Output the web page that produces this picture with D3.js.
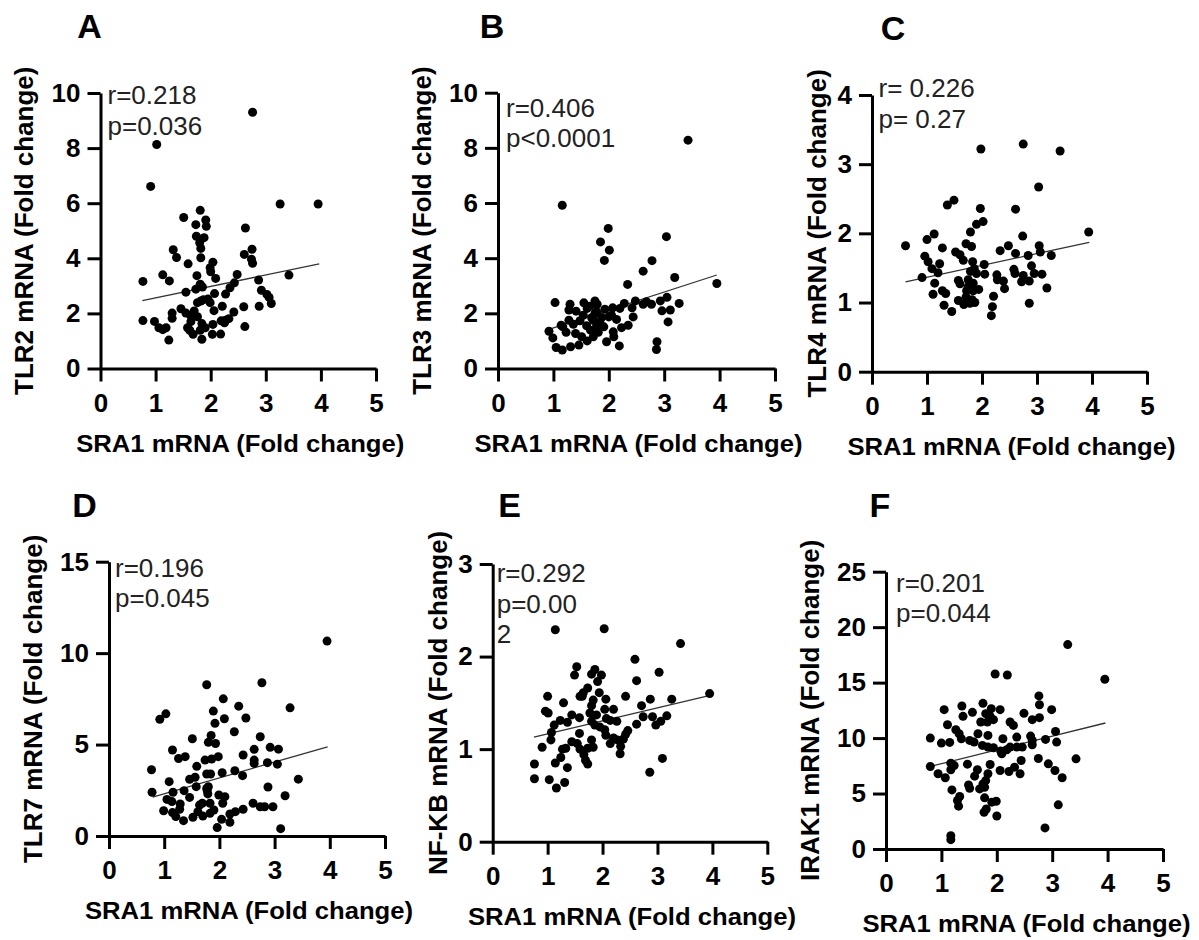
<!DOCTYPE html>
<html><head><meta charset="utf-8">
<script src="https://cdn.jsdelivr.net/npm/d3@7"></script>
<style>body{margin:0;background:#fff}svg{display:block}</style>
</head><body><svg id="c" width="1199" height="940"></svg>
<script>
const FONT = '"Liberation Sans", Arial, Helvetica, sans-serif';
const xTicks = [0, 1, 2, 3, 4, 5];
const xTitle = "SRA1 mRNA (Fold change)";
const letters = ["A", "B", "C", "D", "E", "F"];
const yTitles = ["TLR2 mRNA (Fold change)", "TLR3 mRNA (Fold change)", "TLR4 mRNA (Fold change)",
                 "TLR7 mRNA (Fold change)", "NF-KB mRNA (Fold change)", "IRAK1 mRNA (Fold change)"];
const yTicksA = [0, 2, 4, 6, 8, 10];
const yTicksB = [0, 2, 4, 6, 8, 10];
const yTicksC = [0, 1, 2, 3, 4];
const yTicksD = [0, 5, 10, 15];
const yTicksE = [0, 1, 2, 3];
const yTicksF = [0, 5, 10, 15, 20, 25];
const statsA = ["r=0.218", "p=0.036"];
const statsB = ["r=0.406", "p<0.0001"];
const statsC = ["r= 0.226", "p= 0.27"];
const statsD = ["r=0.196", "p=0.045"];
const statsE = ["r=0.292", "p=0.00", "2"];
const statsF = ["r=0.201", "p=0.044"];
const fitA = [[0.76, 2.46], [3.97, 3.80]];
const fitB = [[0.96, 1.45], [3.95, 3.39]];
const fitC = [[0.61, 1.30], [3.95, 1.87]];
const fitD = [[0.79, 2.13], [3.96, 4.88]];
const fitE = [[0.75, 1.13], [3.96, 1.58]];
const fitF = [[0.80, 7.44], [3.96, 11.36]];

const pointsA = [[2.76,9.30],[1.02,8.13],[0.91,6.61],[3.26,5.97],[3.95,5.97],[1.81,5.74],[1.51,5.48],[1.91,5.39],[1.73,5.22],[1.92,5.16],[2.63,5.10],[1.74,4.80],[1.88,4.75],[1.80,4.56],[1.82,4.36],[1.32,4.31],[2.75,4.33],[2.61,4.14],[1.38,4.03],[2.74,3.97],[1.82,4.02],[2.76,3.82],[1.59,3.80],[2.04,3.86],[1.99,3.66],[2.00,3.51],[1.13,3.40],[2.48,3.41],[3.42,3.39],[1.25,3.18],[2.09,3.27],[1.75,3.37],[0.77,3.16],[2.87,3.21],[2.43,3.11],[1.81,3.06],[1.85,2.96],[1.73,2.88],[2.35,2.93],[1.55,2.77],[2.92,2.84],[2.07,2.72],[2.27,2.70],[3.02,2.69],[3.06,2.58],[1.95,2.52],[1.87,2.50],[1.76,2.39],[3.10,2.36],[2.21,2.26],[2.60,2.24],[2.88,2.26],[1.46,2.17],[2.06,2.10],[1.30,2.01],[1.55,2.01],[1.70,2.09],[2.42,2.05],[1.64,1.91],[1.76,1.88],[1.30,1.82],[0.77,1.74],[0.98,1.71],[2.27,1.75],[2.33,1.81],[2.19,1.73],[1.64,1.70],[1.84,1.63],[2.04,1.60],[1.06,1.48],[1.19,1.48],[1.13,1.41],[1.58,1.48],[1.90,1.48],[2.62,1.52],[1.62,1.39],[1.81,1.39],[1.68,1.24],[2.03,1.24],[2.18,1.25],[1.24,1.03],[1.84,1.06],[1.99,2.39],[1.82,2.45],[2.25,1.66]];
const pointsB = [[3.43,8.28],[1.16,5.92],[1.99,5.08],[3.04,4.78],[1.85,4.59],[2.01,4.29],[1.92,3.92],[2.78,3.91],[2.62,3.53],[3.19,3.30],[2.34,3.05],[3.95,3.08],[1.03,2.39],[1.30,2.33],[3.27,2.36],[3.05,2.58],[2.93,2.45],[1.55,2.38],[1.75,2.45],[1.79,2.33],[2.48,2.45],[2.28,2.36],[2.62,2.33],[2.77,2.33],[1.28,2.12],[1.41,2.08],[1.61,2.18],[1.66,2.26],[1.93,2.15],[2.07,2.20],[2.20,2.18],[2.42,2.20],[2.96,2.09],[3.11,2.12],[2.44,1.87],[2.05,1.93],[1.28,1.75],[1.48,1.73],[1.72,1.75],[1.87,1.85],[2.00,1.87],[1.14,1.57],[1.36,1.60],[1.60,1.55],[1.78,1.55],[1.91,1.51],[2.23,1.48],[2.35,1.57],[3.07,1.69],[0.92,1.35],[1.23,1.31],[1.40,1.27],[1.67,1.39],[1.81,1.31],[2.08,1.33],[0.99,1.11],[1.51,1.15],[1.72,1.15],[1.61,1.00],[1.96,0.97],[2.09,1.15],[2.87,0.97],[1.05,0.76],[1.16,0.67],[1.31,0.79],[1.46,0.85],[2.19,0.82],[2.86,0.69],[1.75,2.00],[1.84,1.66],[1.69,1.84],[1.54,1.93],[1.17,1.51],[1.78,2.06],[2.14,1.78],[2.68,2.42]];
const pointsC = [[2.75,3.29],[1.98,3.22],[3.42,3.19],[3.03,2.67],[1.49,2.48],[1.37,2.41],[1.97,2.36],[2.61,2.35],[2.02,2.17],[1.90,2.13],[1.79,2.02],[3.94,2.02],[1.13,1.99],[2.74,1.96],[1.00,1.91],[0.61,1.82],[1.28,1.79],[1.71,1.85],[1.81,1.81],[2.48,1.82],[2.33,1.75],[3.04,1.82],[3.06,1.73],[1.52,1.73],[1.60,1.69],[2.61,1.71],[2.84,1.68],[3.26,1.68],[0.96,1.67],[1.66,1.61],[1.02,1.59],[1.83,1.59],[2.04,1.55],[1.23,1.56],[2.90,1.53],[1.09,1.49],[1.86,1.49],[1.20,1.43],[1.79,1.45],[1.90,1.42],[2.05,1.41],[2.27,1.40],[2.58,1.48],[2.60,1.42],[2.95,1.42],[3.09,1.41],[0.91,1.36],[2.75,1.39],[2.28,1.33],[1.75,1.33],[1.57,1.32],[2.39,1.31],[2.72,1.30],[2.86,1.31],[1.14,1.28],[1.60,1.27],[1.75,1.23],[1.84,1.28],[2.41,1.20],[3.18,1.21],[1.28,1.17],[1.11,1.12],[1.34,1.13],[1.72,1.17],[1.84,1.17],[1.94,1.19],[2.21,1.09],[1.57,1.03],[1.71,1.08],[1.82,1.04],[1.87,1.00],[1.67,0.97],[1.31,0.96],[2.86,0.99],[2.19,0.94],[1.45,0.87],[2.17,0.81],[1.78,0.99]];
const pointsD = [[3.95,10.66],[1.77,8.27],[2.77,8.38],[2.07,7.50],[2.35,7.10],[3.28,7.01],[1.03,6.68],[0.92,6.38],[1.89,6.83],[2.09,6.41],[2.48,6.45],[1.92,6.16],[2.27,5.70],[1.85,5.50],[1.51,5.32],[2.74,5.43],[1.80,5.12],[1.93,5.06],[1.15,4.70],[2.92,4.85],[3.07,4.75],[2.63,4.74],[1.26,4.24],[1.38,4.34],[1.74,4.15],[1.86,4.21],[1.98,4.34],[2.43,4.43],[2.63,4.15],[2.63,3.97],[2.87,4.01],[3.05,3.93],[1.59,3.81],[0.77,3.62],[2.28,3.57],[2.05,3.46],[1.77,3.39],[1.84,3.39],[2.42,3.30],[1.46,3.10],[1.56,3.21],[3.43,3.11],[1.09,2.97],[1.80,2.70],[1.58,2.70],[2.88,2.68],[0.78,2.39],[1.16,2.39],[1.36,2.48],[1.78,2.48],[1.79,2.30],[1.99,2.24],[2.10,2.15],[1.46,2.11],[3.19,2.20],[1.05,2.00],[1.14,1.88],[1.29,1.75],[1.64,1.69],[1.83,1.79],[2.06,1.79],[2.61,1.79],[2.74,1.60],[2.82,1.60],[2.97,1.60],[0.99,1.38],[1.15,1.28],[1.28,1.46],[1.61,1.33],[1.70,1.09],[1.83,1.24],[1.90,1.42],[2.19,1.20],[2.29,1.33],[2.43,1.46],[1.21,1.06],[1.35,0.84],[1.52,1.02],[2.04,0.91],[2.19,0.75],[1.96,0.46],[3.11,0.40],[1.69,1.79],[1.77,2.60]];
const pointsE = [[1.14,2.29],[2.03,2.30],[3.42,2.14],[2.59,1.97],[1.53,1.89],[1.86,1.86],[1.49,1.80],[3.03,1.83],[1.80,1.81],[1.98,1.80],[1.91,1.73],[2.62,1.74],[1.73,1.66],[1.65,1.61],[1.59,1.57],[1.94,1.61],[1.00,1.57],[2.42,1.57],[3.95,1.60],[1.83,1.53],[2.06,1.54],[2.87,1.54],[3.26,1.54],[1.29,1.50],[1.80,1.47],[2.71,1.47],[2.04,1.43],[2.20,1.43],[0.96,1.41],[1.01,1.39],[1.44,1.37],[1.58,1.34],[1.77,1.39],[1.89,1.37],[2.07,1.33],[2.74,1.35],[2.91,1.35],[3.17,1.36],[1.36,1.29],[1.23,1.31],[1.80,1.30],[2.26,1.30],[2.62,1.27],[2.97,1.26],[3.06,1.30],[1.12,1.26],[1.95,1.24],[1.86,1.26],[2.04,1.21],[2.46,1.20],[1.07,1.18],[1.58,1.17],[2.42,1.16],[2.06,1.15],[2.20,1.12],[1.06,1.10],[2.27,1.10],[2.38,1.11],[1.44,1.08],[1.54,1.06],[1.80,1.10],[0.90,1.02],[2.14,1.06],[2.33,1.03],[1.27,1.00],[1.33,1.01],[1.59,1.00],[1.73,1.01],[1.83,1.02],[2.32,0.95],[1.66,0.94],[1.24,0.91],[3.09,0.90],[1.69,0.88],[1.73,0.84],[0.76,0.84],[1.14,0.85],[1.36,0.80],[2.86,0.75],[0.76,0.68],[1.03,0.67],[1.31,0.64],[1.16,0.58],[1.63,1.57],[2.14,1.31]];
const pointsF = [[3.28,18.43],[3.95,15.30],[1.97,15.78],[2.19,15.69],[2.76,13.80],[2.77,13.01],[1.75,13.13],[1.37,12.89],[1.05,12.56],[1.56,12.32],[2.06,12.56],[1.90,12.65],[2.99,12.56],[1.80,12.20],[1.94,11.66],[1.39,11.96],[2.49,12.23],[2.64,11.66],[2.77,11.84],[1.83,11.45],[1.71,11.45],[2.24,11.45],[2.30,11.14],[1.11,11.20],[1.26,10.75],[1.32,10.39],[1.66,10.39],[1.84,10.24],[3.06,10.60],[0.80,10.00],[1.36,9.94],[1.51,9.79],[1.59,9.64],[2.11,9.94],[2.36,10.09],[2.61,10.18],[2.64,9.79],[2.88,9.88],[3.08,9.64],[1.00,9.55],[1.15,9.61],[1.74,9.34],[1.84,9.19],[1.94,9.13],[2.24,9.19],[2.36,9.19],[2.46,9.19],[2.64,9.40],[2.07,8.83],[2.18,8.95],[2.09,8.58],[2.75,8.16],[3.43,8.13],[2.44,7.98],[2.93,7.68],[3.05,7.08],[0.80,7.44],[1.17,7.74],[1.23,7.53],[1.47,7.65],[1.88,7.62],[1.65,7.14],[2.06,7.08],[2.22,6.99],[2.32,7.38],[2.42,6.78],[0.94,6.78],[1.17,7.14],[1.07,6.42],[1.60,6.57],[1.84,6.78],[3.18,6.42],[1.80,6.17],[1.49,5.78],[1.69,5.42],[1.78,5.57],[1.51,5.48],[1.19,5.33],[1.75,5.87],[1.33,4.73],[1.29,4.37],[1.31,3.86],[1.78,4.61],[1.99,4.31],[1.81,3.61],[1.77,3.31],[2.00,2.98],[3.11,3.98],[2.87,1.90],[1.17,1.20],[1.17,0.84],[1.91,4.22],[1.88,11.96]];

const panels = [
  {yTicks: yTicksA, stats: statsA, fit: fitA, points: pointsA},
  {yTicks: yTicksB, stats: statsB, fit: fitB, points: pointsB},
  {yTicks: yTicksC, stats: statsC, fit: fitC, points: pointsC},
  {yTicks: yTicksD, stats: statsD, fit: fitD, points: pointsD},
  {yTicks: yTicksE, stats: statsE, fit: fitE, points: pointsE},
  {yTicks: yTicksF, stats: statsF, fit: fitF, points: pointsF}
];

// layout (pixel geometry only)
const layout = [
  {x0:100.5, x1:376,   yb:368.5, yt:93,    lx:89.5,  ly:38,  ytx:33,    sdx:7,   sdy:11},
  {x0:498,   x1:775,   yb:368.5, yt:92.7,  lx:492,   ly:38,  ytx:430.5, sdx:8,   sdy:24},
  {x0:872,   x1:1147,  yb:371.7, yt:95,    lx:893,   ly:40,  ytx:826,   sdx:6.5, sdy:2},
  {x0:109,   x1:385,   yb:836,   yt:561.7, lx:84.5,  ly:517, ytx:41.5,  sdx:6,   sdy:15},
  {x0:492.7, x1:767.3, yb:841.7, yt:564,   lx:509.5, ly:517, ytx:446.5, sdx:4,   sdy:18},
  {x0:886,   x1:1163,  yb:849,   yt:571.7, lx:880,   ly:517, ytx:818.5, sdx:10,  sdy:20}
];

const svg = d3.select("#c");
svg.append("rect").attr("width", 1199).attr("height", 940).attr("fill", "#fff");

panels.forEach((p, i) => {
  const L = layout[i];
  const x = d3.scaleLinear().domain([0, 5]).range([L.x0, L.x1]);
  const y = d3.scaleLinear().domain([0, d3.max(p.yTicks)]).range([L.yb, L.yt]);
  const g = svg.append("g");

  const xa = g.append("g").attr("transform", `translate(0,${L.yb})`)
    .call(d3.axisBottom(x).tickValues(xTicks).tickFormat(d3.format("d"))
      .tickSize(13).tickSizeOuter(0).tickPadding(12));
  const ya = g.append("g").attr("transform", `translate(${L.x0},0)`)
    .call(d3.axisLeft(y).tickValues(p.yTicks).tickFormat(d3.format("d"))
      .tickSize(13).tickSizeOuter(0).tickPadding(7));
  [xa, ya].forEach(a => {
    a.attr("font-family", FONT).attr("font-size", 26).attr("font-weight", "bold");
    a.selectAll("path, line").attr("stroke", "#000").attr("stroke-width", 3);
    a.selectAll("text").attr("fill", "#000");
  });

  // regression line
  g.append("line")
    .attr("x1", x(p.fit[0][0])).attr("y1", y(p.fit[0][1]))
    .attr("x2", x(p.fit[1][0])).attr("y2", y(p.fit[1][1]))
    .attr("stroke", "#333").attr("stroke-width", 1.3);

  // points
  g.append("g").selectAll("circle").data(p.points).join("circle")
    .attr("cx", d => x(d[0])).attr("cy", d => y(d[1])).attr("r", 4.5).attr("fill", "#000");

  // stats text
  g.append("g").selectAll("text").data(p.stats).join("text")
    .attr("x", L.x0 + L.sdx).attr("y", (d, k) => L.yt + L.sdy + k * 30.5)
    .attr("font-family", FONT).attr("font-size", 26).attr("fill", "#222")
    .text(d => d);

  // titles
  g.append("text")
    .attr("transform", `translate(${L.ytx},${(L.yb + L.yt) / 2}) rotate(-90)`)
    .attr("text-anchor", "middle").attr("font-family", FONT).attr("font-size", 26)
    .attr("font-weight", "bold").attr("fill", "#000").text(yTitles[i]);
  g.append("text")
    .attr("x", (L.x0 + L.x1) / 2 + 2).attr("y", L.yb + 83)
    .attr("text-anchor", "middle").attr("font-family", FONT).attr("font-size", 24)
    .attr("textLength", 328).attr("lengthAdjust", "spacingAndGlyphs")
    .attr("font-weight", "bold").attr("fill", "#000").text(xTitle);
  g.append("text")
    .attr("x", L.lx).attr("y", L.ly)
    .attr("text-anchor", "middle").attr("font-family", FONT).attr("font-size", 34)
    .attr("font-weight", "bold").attr("fill", "#000").text(letters[i]);
});
</script></body></html>
